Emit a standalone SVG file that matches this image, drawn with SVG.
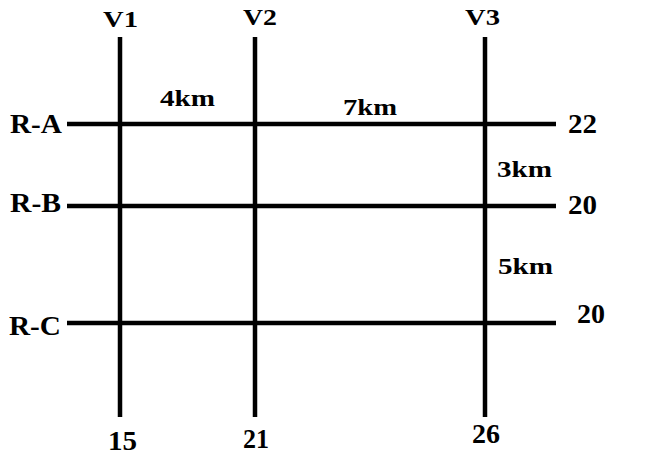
<svg xmlns="http://www.w3.org/2000/svg" width="655" height="460" viewBox="0 0 655 460">
<style>
.road{stroke:#000;stroke-width:4.5;fill:none}
.t{font-family:"Liberation Serif","Times New Roman",serif;font-weight:bold;fill:#000}
.s{font-size:24px}
.l{font-size:27px}
</style>
<rect width="655" height="460" fill="#fff"/>
<g id="roads">
<line class="road" x1="67" y1="124" x2="556" y2="124"/>
<line class="road" x1="67" y1="206" x2="556" y2="206"/>
<line class="road" x1="67" y1="323" x2="556" y2="323"/>
<line class="road" x1="120" y1="37" x2="120" y2="417"/>
<line class="road" x1="255" y1="37" x2="255" y2="417"/>
<line class="road" x1="485" y1="37" x2="485" y2="417"/>
</g>
<g id="V1"><text class="t s" x="103" y="27" textLength="35" lengthAdjust="spacingAndGlyphs">V1</text><text class="t l" x="108" y="450" textLength="29" lengthAdjust="spacingAndGlyphs">15</text></g>
<g id="V2"><text class="t s" x="243" y="25" textLength="34" lengthAdjust="spacingAndGlyphs">V2</text><text class="t l" x="243" y="448" textLength="26" lengthAdjust="spacingAndGlyphs">21</text></g>
<g id="V3"><text class="t s" x="465" y="25" textLength="35" lengthAdjust="spacingAndGlyphs">V3</text><text class="t l" x="472" y="443" textLength="28" lengthAdjust="spacingAndGlyphs">26</text></g>
<g id="RA"><text class="t l" x="10" y="133" textLength="52" lengthAdjust="spacingAndGlyphs">R-A</text><text class="t l" x="568" y="133" textLength="29" lengthAdjust="spacingAndGlyphs">22</text></g>
<g id="RB"><text class="t l" x="10" y="212" textLength="51" lengthAdjust="spacingAndGlyphs">R-B</text><text class="t l" x="568" y="214" textLength="29" lengthAdjust="spacingAndGlyphs">20</text></g>
<g id="RC"><text class="t l" x="9" y="335" textLength="52" lengthAdjust="spacingAndGlyphs">R-C</text><text class="t l" x="577" y="323" textLength="28" lengthAdjust="spacingAndGlyphs">20</text></g>
<g id="distances">
<text class="t s" x="160" y="106" textLength="55" lengthAdjust="spacingAndGlyphs">4km</text>
<text class="t s" x="343" y="115" textLength="54" lengthAdjust="spacingAndGlyphs">7km</text>
<text class="t s" x="497" y="177" textLength="55" lengthAdjust="spacingAndGlyphs">3km</text>
<text class="t s" x="498" y="274" textLength="55" lengthAdjust="spacingAndGlyphs">5km</text>
</g>
</svg>
